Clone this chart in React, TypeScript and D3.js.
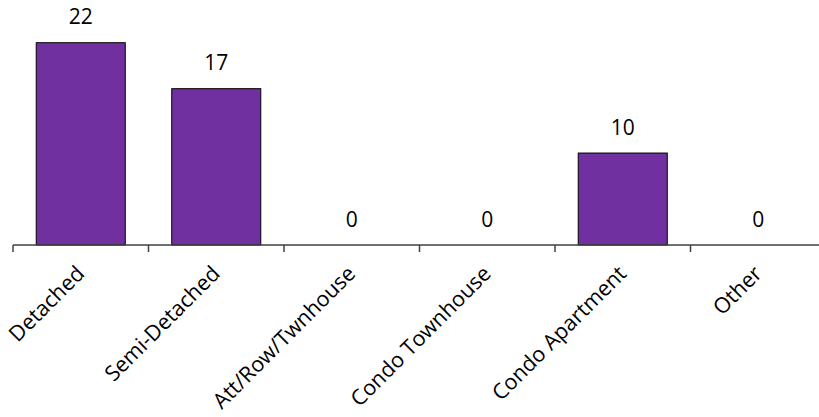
import React from "react";
import * as d3 from "d3";

const categories = ["Detached", "Semi-Detached", "Att/Row/Twnhouse", "Condo Townhouse", "Condo Apartment", "Other"];
const values = [22, 17, 0, 0, 10, 0];

const W = 819;
const H = 417;
const FONT = "'Open Sans', sans-serif";

export default function App() {
  const x = d3.scaleBand<string>().domain(categories).range([13, 13 + 135.5 * 6]).paddingInner(0.343).paddingOuter(0.1715);
  const band = d3.scaleBand<string>().domain(categories).range([13, 13 + 135.5 * 6]).padding(0);
  const y = d3.scaleLinear().domain([0, 22]).range([245, 42.7]);
  const baseY = y(0);
  const ticks = d3.range(categories.length + 1).map((i) => 13 + band.step() * i);

  return (
    <svg width={W} height={H} style={{ position: "absolute", left: 0, top: 0, background: "#fff" }}>
      {categories.map((c, i) => (
        <g key={c}>
          {values[i] > 0 && (
            <rect
              x={x(c)}
              y={y(values[i])}
              width={x.bandwidth()}
              height={baseY - y(values[i])}
              fill="#7030A0"
              stroke="#000"
              strokeWidth={1}
            />
          )}
          <text
            x={(band(c) as number) + band.bandwidth() / 2}
            y={y(values[i]) - 18.5}
            textAnchor="middle"
            fontFamily={FONT}
            fontSize={21}
            fill="#000"
          >
            {values[i]}
          </text>
          <text
            transform={`translate(${(band(c) as number) + band.bandwidth() / 2 + 5},${275}) rotate(-45)`}
            textAnchor="end"
            fontFamily={FONT}
            fontSize={21.5}
            fill="#000"
          >
            {c}
          </text>
        </g>
      ))}
      <line x1={13} x2={W} y1={baseY} y2={baseY} stroke="#404040" strokeWidth={1.5} />
      {ticks.map((t, i) => (
        <line key={i} x1={t} x2={t} y1={baseY} y2={baseY + 7} stroke="#404040" strokeWidth={1.5} />
      ))}
    </svg>
  );
}
